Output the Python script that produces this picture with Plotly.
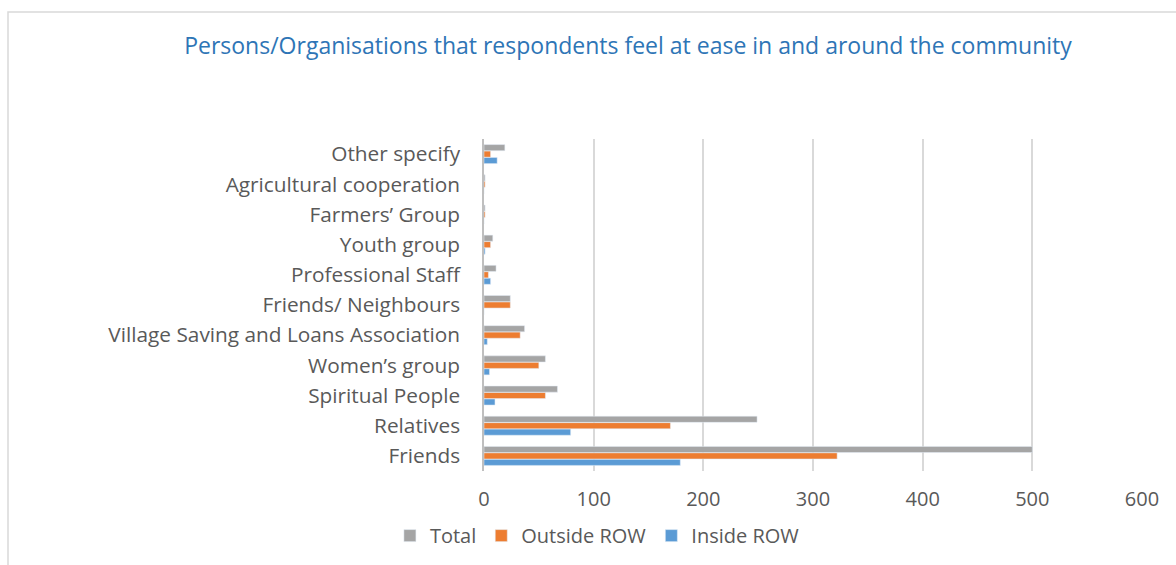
import plotly.graph_objects as go

categories = ["Friends", "Relatives", "Spiritual People", "Women\u2019s group",
              "Village Saving and Loans Association", "Friends/ Neighbours",
              "Professional Staff", "Youth group", "Farmers\u2019 Group",
              "Agricultural cooperation", "Other specify"]
total = [500, 249, 67, 56, 37, 24, 11, 8, 1, 1, 19]
outside_row = [322, 170, 56, 50, 33, 24, 4, 6, 1, 1, 6]
inside_row = [179, 79, 10, 5, 3, 0, 6, 1, 0, 0, 12]

FONT = "Open Sans"
TXT = "#595959"

fig = go.Figure()
fig.add_trace(go.Bar(y=categories, x=inside_row, orientation="h", name="Inside ROW",
                     marker=dict(color="#5B9BD5")))
fig.add_trace(go.Bar(y=categories, x=outside_row, orientation="h", name="Outside ROW",
                     marker=dict(color="#ED7D31")))
fig.add_trace(go.Bar(y=categories, x=total, orientation="h", name="Total",
                     marker=dict(color="#A5A5A5")))

fig.update_layout(
    width=1176, height=565,
    margin=dict(l=484, r=34, t=139, b=94, autoexpand=False),
    paper_bgcolor="white", plot_bgcolor="white",
    barmode="group", bargap=0.36, bargroupgap=0.05,
    font=dict(family=FONT, color=TXT, size=20),
    title=dict(text="Persons/Organisations that respondents feel at ease in and around the community",
               x=0.534, xanchor="center", y=0.918, yanchor="middle", xref="container", yref="container",
               font=dict(family=FONT, size=23, color="#2E75B6")),
    legend=dict(orientation="h", x=0.508, xref="container", xanchor="center",
                y=0.052, yref="container", yanchor="middle",
                traceorder="reversed", font=dict(size=20, color=TXT),
                itemwidth=30),
    xaxis=dict(range=[0, 600], dtick=100, showgrid=True, gridcolor="#D9D9D9",
               gridwidth=1.5, zeroline=False, showline=False, automargin=False,
               tickfont=dict(size=20, color=TXT), ticks="", ticklabelstandoff=14),
    yaxis=dict(showline=True, linecolor="#BFBFBF", linewidth=1.5, ticks="", automargin=False,
               tickfont=dict(size=20.8, color=TXT), ticklabelstandoff=18),
    shapes=[dict(type="rect", xref="paper", yref="paper",
                 x0=-0.7234, x1=1.2, y0=-0.6, y1=1.3825,
                 line=dict(color="#D9D9D9", width=1.5), fillcolor="rgba(0,0,0,0)",
                 layer="below")],
)

fig.write_html("out.html")
